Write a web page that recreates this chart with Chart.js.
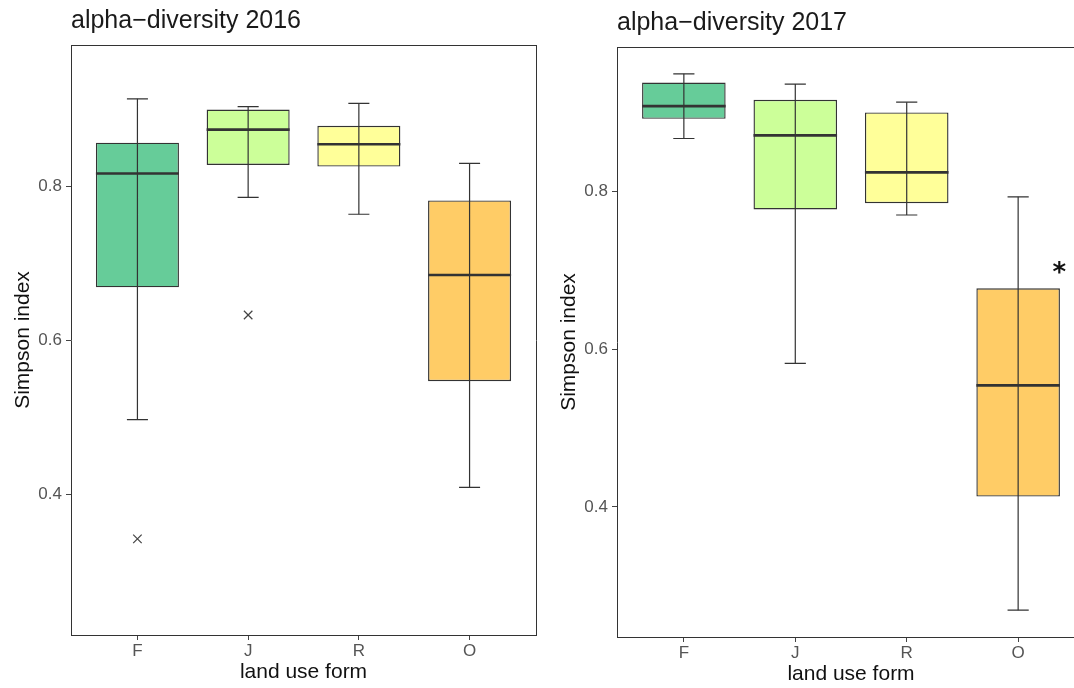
<!DOCTYPE html>
<html>
<head>
<meta charset="utf-8">
<title>alpha-diversity 2016 / 2017</title>
<script src="https://cdn.jsdelivr.net/npm/chart.js@4.4.1/dist/chart.umd.min.js"></script>
<style>
  html, body { margin: 0; padding: 0; width: 1074px; height: 688px; overflow: hidden; background: #ffffff; }
  canvas { position: absolute; }
  #c2016 { left: 0; top: 0; }
  #c2017 { left: 546px; top: 2px; }
</style>
</head>
<body>
<canvas id="c2016" width="540" height="688"></canvas>
<canvas id="c2017" width="543" height="688"></canvas>
<script>
// Land use forms on the x axis and the Simpson index ticks on the y axis
const categories = ['F', 'J', 'R', 'O'];
const yTicks = [0.4, 0.6, 0.8];

// 2016: whisker ends, quartiles, medians and outliers per land use form
const low2016      = [0.497, 0.786, 0.764, 0.409];
const q1_2016      = [0.669, 0.828, 0.826, 0.547];
const median2016   = [0.817, 0.874, 0.855, 0.685];
const q3_2016      = [0.857, 0.900, 0.879, 0.782];
const high2016     = [0.914, 0.904, 0.908, 0.830];
const outliers2016 = [0.342, 0.633, null, null];

// 2017
const low2017      = [0.867, 0.582, 0.770, 0.269];
const q1_2017      = [0.892, 0.777, 0.785, 0.413];
const median2017   = [0.908, 0.871, 0.824, 0.554];
const q3_2017      = [0.938, 0.916, 0.900, 0.677];
const high2017     = [0.949, 0.936, 0.913, 0.793];
const outliers2017 = [null, null, null, null];

// Significance marks (2017) and where they sit on the y axis
const sigLabels2017 = ['', '', '', '*'];
const sigY2017      = [null, null, null, 0.703];

const boxFills = ['#66CC99', '#CCFF99', '#FFFF99', '#FFCC66'];

const FONT = '"Liberation Sans", Arial, Helvetica, sans-serif';
const INK = '#333333';
const BOX_HALF = 0.375;   // half box width in category units
const CAP_HALF = 0.095;   // half whisker-cap width in category units

function whiskerPoints(low, high) {
  const pts = [];
  categories.forEach((c, i) => {
    pts.push({ x: i, y: low[i] }, { x: i, y: high[i] }, { x: i, y: null });
  });
  return pts;
}
function capPoints(low, high) {
  const pts = [];
  categories.forEach((c, i) => {
    [low[i], high[i]].forEach(v => {
      pts.push({ x: i - CAP_HALF, y: v }, { x: i + CAP_HALF, y: v }, { x: i + CAP_HALF, y: null });
    });
  });
  return pts;
}
function medianPoints(med) {
  const pts = [];
  categories.forEach((c, i) => {
    pts.push({ x: i - BOX_HALF, y: med[i] }, { x: i + BOX_HALF, y: med[i] }, { x: i + BOX_HALF, y: null });
  });
  return pts;
}
function outlierPoints(out) {
  const pts = [];
  out.forEach((v, i) => { if (v !== null) pts.push({ x: i, y: v }); });
  return pts;
}

// Draws text marks (e.g. significance stars) centred on a data position
const sigPlugin = {
  id: 'sigMarks',
  afterDatasetsDraw(chart, args, opts) {
    if (!opts || !opts.labels) return;
    const { ctx, scales: { x, y } } = chart;
    ctx.save();
    ctx.font = 'bold 26px "DejaVu Sans", sans-serif';
    ctx.fillStyle = '#111111';
    ctx.textAlign = 'center';
    ctx.textBaseline = 'alphabetic';
    opts.labels.forEach((t, i) => {
      if (!t || opts.values[i] === null) return;
      const px = x.getPixelForValue(i + opts.dx);
      const py = y.getPixelForValue(opts.values[i]);
      const m = ctx.measureText(t);
      ctx.fillText(t, px, py + (m.actualBoundingBoxAscent - m.actualBoundingBoxDescent) / 2);
    });
    ctx.restore();
  }
};

function boxChart(canvasId, title, s, yMin, yMax, sig) {
  const lineBase = {
    type: 'line', borderColor: INK, pointRadius: 0, spanGaps: false,
    tension: 0, fill: false, borderCapStyle: 'butt'
  };
  return new Chart(document.getElementById(canvasId), {
    type: 'bar',
    plugins: [sigPlugin],
    data: {
      datasets: [
        {
          label: 'box',
          data: categories.map((c, i) => ({ x: i, y: [s.q1[i], s.q3[i]] })),
          backgroundColor: boxFills,
          borderColor: INK,
          borderWidth: 1.4,
          borderSkipped: false,
          grouped: false,
          barPercentage: 2 * BOX_HALF,
          categoryPercentage: 1,
          order: 4
        },
        Object.assign({}, lineBase, { label: 'whisker', data: whiskerPoints(s.low, s.high), borderWidth: 1.2, order: 3 }),
        Object.assign({}, lineBase, { label: 'cap', data: capPoints(s.low, s.high), borderWidth: 1.2, order: 2 }),
        Object.assign({}, lineBase, { label: 'median', data: medianPoints(s.med), borderWidth: 2.6, order: 1 }),
        {
          type: 'line', label: 'outlier', data: outlierPoints(s.out), showLine: false,
          pointStyle: 'crossRot', pointRadius: 6, pointBorderColor: '#444444',
          pointBorderWidth: 1.2, pointBackgroundColor: 'transparent', order: 0
        }
      ]
    },
    options: {
      responsive: false,
      animation: false,
      devicePixelRatio: 1,
      events: [],
      layout: { autoPadding: false, padding: { left: 0, right: 4, top: 0, bottom: 0 } },
      plugins: {
        legend: { display: false },
        tooltip: { enabled: false },
        title: {
          display: true, text: title, align: 'start', fullSize: false,
          color: '#1a1a1a', font: { family: FONT, size: 25, weight: 'normal' },
          padding: { top: 6, bottom: 9 }
        },
        sigMarks: sig
      },
      scales: {
        x: {
          type: 'linear', min: -0.6, max: 3.6, offset: false,
          afterBuildTicks: sc => { sc.ticks = categories.map((c, i) => ({ value: i })); },
          afterFit: sc => { sc.height = 53; },
          grid: { offset: false, drawOnChartArea: false, drawTicks: true, tickLength: 5, color: '#444444', lineWidth: 1 },
          border: { display: true, color: INK, width: 1 },
          ticks: { padding: 1, color: '#555555', font: { family: FONT, size: 17 }, callback: v => categories[v] },
          title: {
            display: true, text: 'land use form', color: '#111111',
            font: { family: FONT, size: 21 }, padding: { top: 0, bottom: 3.4 }
          }
        },
        y: {
          type: 'linear', min: yMin, max: yMax,
          afterBuildTicks: sc => { sc.ticks = yTicks.map(v => ({ value: v })); },
          afterFit: sc => { sc.width = 71; },
          grid: { drawOnChartArea: false, drawTicks: true, tickLength: 5, color: '#444444', lineWidth: 1 },
          border: { display: true, color: INK, width: 1 },
          ticks: { padding: 4, color: '#555555', font: { family: FONT, size: 17 }, callback: v => v.toFixed(1) },
          title: {
            display: true, text: 'Simpson index', color: '#111111',
            font: { family: FONT, size: 21 }, padding: { top: 10.4, bottom: 0 }
          }
        },
        xTop: {
          type: 'linear', position: 'top', min: 0, max: 1,
          afterFit: sc => { sc.height = 0; },
          ticks: { display: false },
          grid: { display: false, drawTicks: false },
          border: { display: true, color: INK, width: 1 }
        },
        yRight: {
          type: 'linear', position: 'right', min: 0, max: 1,
          afterFit: sc => { sc.width = 0; },
          ticks: { display: false },
          grid: { display: false, drawTicks: false },
          border: { display: true, color: INK, width: 1 }
        }
      }
    }
  });
}

boxChart('c2016', 'alpha\u2212diversity 2016',
  { low: low2016, q1: q1_2016, med: median2016, q3: q3_2016, high: high2016, out: outliers2016 },
  0.217, 0.984, null);

boxChart('c2017', 'alpha\u2212diversity 2017',
  { low: low2017, q1: q1_2017, med: median2017, q3: q3_2017, high: high2017, out: outliers2017 },
  0.235, 0.983, { labels: sigLabels2017, values: sigY2017, dx: 0.37 });
</script>
</body>
</html>
